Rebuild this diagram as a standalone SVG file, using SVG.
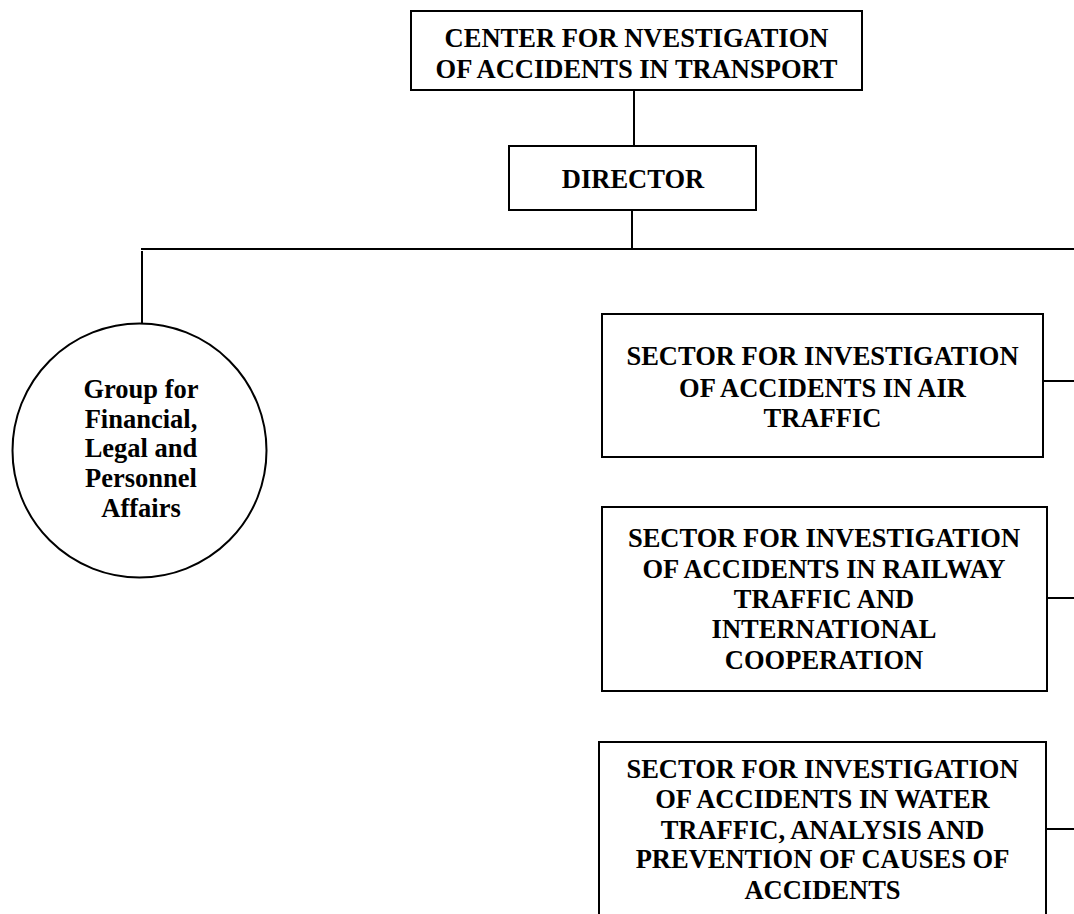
<svg xmlns="http://www.w3.org/2000/svg" width="1074" height="914" viewBox="0 0 1074 914">
<style>
.box{fill:#fff;stroke:#000;stroke-width:2}
.ln{fill:none;stroke:#000;stroke-width:2}
.t{font-family:"Liberation Serif","Times New Roman",serif;font-weight:bold;font-size:26.5px;fill:#000;text-anchor:middle}
</style>
<rect width="1074" height="914" fill="#fff"/>
<g id="connectors">
<line class="ln" x1="634" y1="90" x2="634" y2="146"/>
<line class="ln" x1="632" y1="210" x2="632" y2="249"/>
<line class="ln" x1="141" y1="249" x2="1074" y2="249"/>
<line class="ln" x1="142" y1="251" x2="142" y2="323"/>
<line class="ln" x1="1043" y1="381" x2="1074" y2="381"/>
<line class="ln" x1="1047" y1="598" x2="1074" y2="598"/>
<line class="ln" x1="1046" y1="829" x2="1074" y2="829"/>
</g>
<g id="center">
<rect class="box" x="411" y="11" width="451" height="79"/>
<text class="t" x="636.5" y="47">CENTER FOR NVESTIGATION</text>
<text class="t" x="636.5" y="78">OF ACCIDENTS IN TRANSPORT</text>
</g>
<g id="director">
<rect class="box" x="509" y="146" width="247" height="64"/>
<text class="t" x="633" y="188">DIRECTOR</text>
</g>
<g id="group">
<circle class="box" cx="139.5" cy="450.5" r="127"/>
<text class="t" x="141" y="398">Group for</text>
<text class="t" x="141" y="428">Financial,</text>
<text class="t" x="141" y="457">Legal and</text>
<text class="t" x="141" y="487">Personnel</text>
<text class="t" x="141" y="517">Affairs</text>
</g>
<g id="sector-air">
<rect class="box" x="602" y="314" width="441" height="143"/>
<text class="t" x="822.5" y="365">SECTOR FOR INVESTIGATION</text>
<text class="t" x="822.5" y="397">OF ACCIDENTS IN AIR</text>
<text class="t" x="822.5" y="427">TRAFFIC</text>
</g>
<g id="sector-railway">
<rect class="box" x="602" y="507" width="445" height="184"/>
<text class="t" x="824" y="547">SECTOR FOR INVESTIGATION</text>
<text class="t" x="824" y="578">OF ACCIDENTS IN RAILWAY</text>
<text class="t" x="824" y="608">TRAFFIC AND</text>
<text class="t" x="824" y="638">INTERNATIONAL</text>
<text class="t" x="824" y="669">COOPERATION</text>
</g>
<g id="sector-water">
<rect class="box" x="599" y="742" width="447" height="190"/>
<text class="t" x="822.5" y="778">SECTOR FOR INVESTIGATION</text>
<text class="t" x="822.5" y="808">OF ACCIDENTS IN WATER</text>
<text class="t" x="822.5" y="838.5">TRAFFIC, ANALYSIS AND</text>
<text class="t" x="822.5" y="868">PREVENTION OF CAUSES OF</text>
<text class="t" x="822.5" y="899">ACCIDENTS</text>
</g>
</svg>
